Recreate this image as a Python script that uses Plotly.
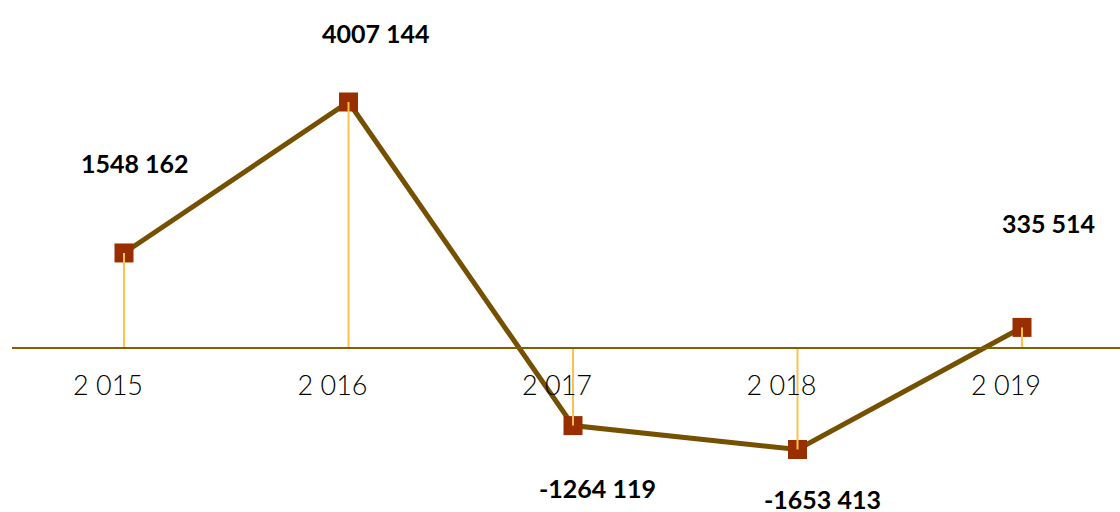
import plotly.graph_objects as go

categories = ["2 015", "2 016", "2 017", "2 018", "2 019"]
values = [1548162, 4007144, -1264119, -1653413, 335514]
value_labels = ["1548 162", "4007 144", "-1264 119", "-1653 413", "335 514"]

# label offsets in pixels (style only)
label_dx = [11, 27, 24, 25, 26]
label_dy = [90, 69, -62, -49, 104]

W, H = 1120, 512
zero_px = 348
top_val_px = 102
scale = (zero_px - top_val_px) / values[1]  # px per unit
y_top = zero_px / scale
y_bot = -(H - zero_px) / scale

x_step = 224.5
x_left = -(124 - 12) / x_step
x_right = x_left + (W - 12) / x_step

idx = list(range(len(categories)))

fig = go.Figure()
fig.add_trace(go.Scatter(
    x=idx, y=values, mode="lines",
    line=dict(color="#745000", width=5),
    hoverinfo="skip", showlegend=False,
))
fig.add_trace(go.Scatter(
    x=idx, y=values, mode="markers",
    marker=dict(symbol="square", size=19, color="#992E00", line=dict(width=0)),
    cliponaxis=False, showlegend=False,
))
drop_x, drop_y = [], []
for i, v in zip(idx, values):
    drop_x += [i, i, None]
    drop_y += [0, v, None]
fig.add_trace(go.Scatter(
    x=drop_x, y=drop_y, mode="lines",
    line=dict(color="#FFC04D", width=2),
    hoverinfo="skip", showlegend=False,
))

for i, v, t, dx, dy in zip(idx, values, value_labels, label_dx, label_dy):
    fig.add_annotation(
        x=i, y=v, xref="x", yref="y", text=t, showarrow=False,
        xshift=dx, yshift=dy,
        font=dict(family="Lato, DejaVu Sans, sans-serif", size=25, color="#000000", weight="bold"),
    )

fig.update_layout(
    width=W, height=H,
    margin=dict(l=12, r=0, t=0, b=0),
    paper_bgcolor="white", plot_bgcolor="white",
    showlegend=False,
)
fig.update_xaxes(
    range=[x_left, x_right],
    tickmode="array", tickvals=idx, ticktext=categories,
    anchor="free", position=(H - zero_px) / H,
    showline=True, linecolor="#7F5F00", linewidth=2,
    showgrid=False, zeroline=False, ticks="",
    tickfont=dict(family="Lato, sans-serif", size=27, color="#000000", weight=300),
    ticklabelshift=-16, ticklabelstandoff=14,
)
fig.update_yaxes(
    range=[y_bot, y_top], visible=False, showgrid=False, zeroline=False,
)

fig.write_html(
    "out.html",
    config={"displayModeBar": False},
    post_script="document.body.style.margin='0';document.body.style.overflow='hidden';",
)
